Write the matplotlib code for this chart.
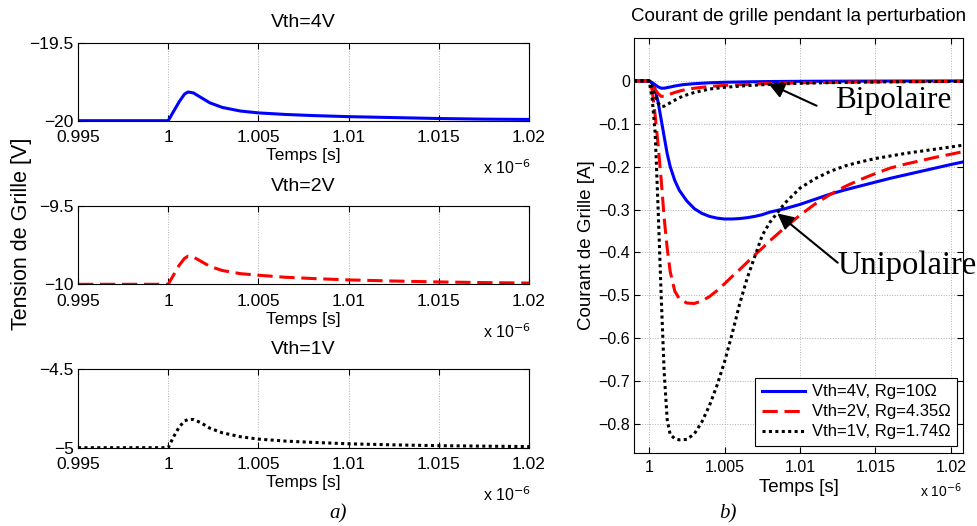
import matplotlib
matplotlib.use('Agg')
import matplotlib.pyplot as plt
from matplotlib.ticker import FuncFormatter

plt.rcParams['font.family'] = ['Liberation Sans', 'DejaVu Sans']

# ---- data (time in units of 1e-6 s) ----
t_gate = [0.995, 1.0, 1.0003, 1.0006, 1.0009, 1.0011, 1.0014, 1.0018, 1.0023, 1.003,
          1.004, 1.005, 1.0065, 1.008, 1.01, 1.0125, 1.015, 1.0175, 1.02]
v_gate_4V = [-20, -20, -19.94, -19.88, -19.83, -19.816, -19.822, -19.85, -19.885, -19.915,
             -19.938, -19.95, -19.96, -19.967, -19.974, -19.98, -19.986, -19.99, -19.992]
v_gate_2V = [-10, -10, -9.94, -9.88, -9.835, -9.82, -9.826, -9.852, -9.885, -9.912,
             -9.932, -9.942, -9.955, -9.963, -9.972, -9.979, -9.985, -9.989, -9.992]
v_gate_1V = [-5, -5, -4.93, -4.87, -4.83, -4.82, -4.82, -4.84, -4.875, -4.905,
             -4.93, -4.945, -4.958, -4.966, -4.975, -4.982, -4.987, -4.99, -4.993]

t_bip = [0.999, 1.0, 1.0002, 1.0004, 1.0006, 1.0008, 1.001, 1.0013, 1.0017, 1.0022,
         1.003, 1.004, 1.005, 1.0065, 1.008, 1.01, 1.013, 1.016, 1.0208]
i_bip_4V = [0, 0, -0.004, -0.009, -0.014, -0.017, -0.017, -0.015, -0.012, -0.009,
            -0.0065, -0.0045, -0.0032, -0.0022, -0.0015, -0.001, -0.0006, -0.0004, -0.0002]
i_bip_2V = [0, 0, -0.01, -0.02, -0.03, -0.036, -0.036, -0.032, -0.027, -0.022,
            -0.017, -0.013, -0.0105, -0.008, -0.006, -0.0045, -0.003, -0.002, -0.001]
i_bip_1V = [0, 0, -0.015, -0.035, -0.052, -0.06, -0.059, -0.053, -0.045, -0.036,
            -0.027, -0.019, -0.015, -0.011, -0.008, -0.0055, -0.0035, -0.0022, -0.0012]

t_uni = [0.999, 1.0, 1.0002, 1.0004, 1.0006, 1.0008, 1.001, 1.0012, 1.0014, 1.0017,
         1.002, 1.0025, 1.003, 1.0035, 1.004, 1.0045, 1.005, 1.0055, 1.006, 1.0065,
         1.007, 1.0075, 1.008, 1.009, 1.01, 1.011, 1.012, 1.013, 1.014, 1.015,
         1.016, 1.017, 1.018, 1.019, 1.02, 1.0208]
i_uni_4V = [0, 0, -0.005, -0.02, -0.05, -0.09, -0.13, -0.17, -0.2, -0.232,
            -0.255, -0.28, -0.298, -0.309, -0.316, -0.32, -0.322, -0.322, -0.321, -0.319,
            -0.316, -0.312, -0.306, -0.298, -0.288, -0.276, -0.264, -0.254, -0.245, -0.236,
            -0.227, -0.219, -0.211, -0.203, -0.195, -0.189]
i_uni_2V = [0, 0, -0.02, -0.08, -0.15, -0.23, -0.32, -0.39, -0.445, -0.49,
            -0.508, -0.518, -0.519, -0.513, -0.503, -0.489, -0.473, -0.456, -0.44, -0.423,
            -0.406, -0.39, -0.373, -0.342, -0.313, -0.287, -0.265, -0.246, -0.23, -0.216,
            -0.203, -0.194, -0.186, -0.178, -0.171, -0.165]
i_uni_1V = [0, 0, -0.04, -0.12, -0.3, -0.5, -0.68, -0.79, -0.825, -0.834,
            -0.837, -0.836, -0.823, -0.795, -0.757, -0.71, -0.655, -0.59, -0.52, -0.46,
            -0.41, -0.36, -0.33, -0.285, -0.25, -0.228, -0.211, -0.198, -0.189, -0.181,
            -0.175, -0.169, -0.164, -0.159, -0.154, -0.15]

left_titles = ['Vth=4V', 'Vth=2V', 'Vth=1V']
left_ylims = [(-20, -19.5), (-10, -9.5), (-5, -4.5)]
legend_labels = ['Vth=4V, Rg=10\u03a9', 'Vth=2V, Rg=4.35\u03a9', 'Vth=1V, Rg=1.74\u03a9']

colors = ['#0000ff', '#ff0000', '#000000']
styles = ['-', (0, (5, 2.2)), (0, (1, 1.1))]

W, H = 978, 526


def px_axes(x0, y0, x1, y1):
    return [x0 / W, 1 - y1 / H, (x1 - x0) / W, (y1 - y0) / H]


def fmt(v, pos):
    return f'{v:g}'.replace('-', '\u2212')


def style_axes(ax, size, xpad):
    ax.tick_params(direction='in', top=True, right=True, length=4, width=0.8,
                   labelsize=size, pad=3)
    ax.tick_params(axis='x', pad=xpad)
    ax.grid(True, linestyle=':', color='#b0b0b0', linewidth=0.7)
    for s in ax.spines.values():
        s.set_linewidth(0.8)
    ax.xaxis.set_major_formatter(FuncFormatter(fmt))
    ax.yaxis.set_major_formatter(FuncFormatter(fmt))


fig = plt.figure(figsize=(9.78, 5.26), dpi=100)

left_boxes = [(78, 42.7, 529, 120.7), (78, 206, 529, 284.3), (78, 369.3, 529, 447.7)]
left_series = [v_gate_4V, v_gate_2V, v_gate_1V]
for k in range(3):
    ax = fig.add_axes(px_axes(*left_boxes[k]))
    ax.plot(t_gate, left_series[k], color=colors[k], linestyle=styles[k], lw=2.2)
    ax.set_xlim(0.995, 1.02)
    ax.set_ylim(*left_ylims[k])
    ax.set_xticks([0.995, 1.0, 1.005, 1.01, 1.015, 1.02])
    ax.set_yticks(list(left_ylims[k]))
    style_axes(ax, 12.5, 7)
    ax.set_title(left_titles[k], fontsize=14, pad=11)
    ax.set_xlabel('Temps [s]', fontsize=12.5, labelpad=2)
    y_off = left_boxes[k][3] + 47
    fig.text(483 / W, 1 - y_off / H, r'x 10$^{-6}$', fontsize=11.5, va='center')

fig.text(22 / W, 1 - 234 / H, 'Tension de Grille [V]', rotation=90,
         fontsize=15.5, ha='center', va='center')

# ---- right panel ----
ax = fig.add_axes(px_axes(634, 38, 963, 452.7))
bip = [i_bip_4V, i_bip_2V, i_bip_1V]
uni = [i_uni_4V, i_uni_2V, i_uni_1V]
for k in range(3):
    ax.plot(t_uni, uni[k], color=colors[k], linestyle=styles[k], lw=2.2,
            label=legend_labels[k])
    ax.plot(t_bip, bip[k], color=colors[k], linestyle=styles[k], lw=2.2)
ax.set_xlim(0.999, 1.0208)
ax.set_ylim(-0.867, 0.1)
ax.set_xticks([1.0, 1.005, 1.01, 1.015, 1.02])
ax.set_yticks([-0.8, -0.7, -0.6, -0.5, -0.4, -0.3, -0.2, -0.1, 0])
style_axes(ax, 11.5, 5)
ax.set_title('Courant de grille pendant la perturbation', fontsize=13.5, pad=12)
ax.set_xlabel('Temps [s]', fontsize=13.5, labelpad=3)
ax.set_ylabel('Courant de Grille [A]', fontsize=13.5, labelpad=2)
fig.text(920 / W, 1 - 491 / H, r'x 10$^{-6}$', fontsize=10, va='center')

leg = ax.legend(loc='lower right', bbox_to_anchor=(0.982, 0.016), fontsize=12,
                frameon=True, fancybox=False, framealpha=1, edgecolor='black',
                handlelength=2.6, handletextpad=0.4, borderpad=0.4,
                labelspacing=0.3, borderaxespad=0)
leg.get_frame().set_linewidth(0.8)

arrow = dict(arrowstyle='-|>', color='black', lw=1.5, mutation_scale=24,
             shrinkA=0, shrinkB=0)
ax.annotate('', xy=(1.0079, -0.006), xytext=(1.0111, -0.058), arrowprops=arrow)
ax.annotate('', xy=(1.0085, -0.309), xytext=(1.0125, -0.424), arrowprops=arrow,
            annotation_clip=False)
ax.text(1.0123, -0.046, 'Bipolaire', family='Liberation Serif', fontsize=22.5,
        va='center', ha='left')
ax.text(1.0125, -0.43, 'Unipolaire', family='Liberation Serif', fontsize=23.5,
        va='center', ha='left', clip_on=False)

fig.text(338 / W, 1 - 514 / H, 'a)', family='Liberation Serif', style='italic',
         fontsize=15, ha='center', va='center')
fig.text(728 / W, 1 - 514 / H, 'b)', family='Liberation Serif', style='italic',
         fontsize=15, ha='center', va='center')

fig.savefig('out.png', dpi=100)
